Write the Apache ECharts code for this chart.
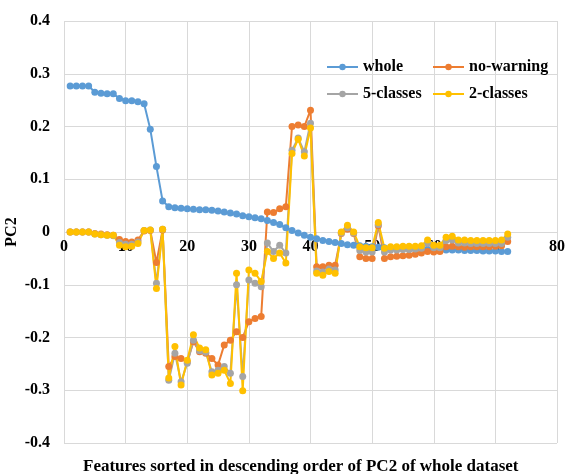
<!DOCTYPE html>
<html>
<head>
<meta charset="utf-8">
<script src="https://cdn.jsdelivr.net/npm/echarts@6/dist/echarts.min.js"></script>
<style>
  html, body { margin: 0; padding: 0; background: #fff; }
  #main { width: 569px; height: 474px; }
</style>
</head>
<body>
<div id="main"></div>
<script>
// PC2 loadings, features 1..72 sorted by PC2 of whole dataset
var whole = [
  0.277, 0.277, 0.277, 0.277, 0.265, 0.263, 0.262, 0.262, 0.253, 0.249,
  0.249, 0.247, 0.243, 0.195, 0.124, 0.059, 0.048, 0.046, 0.045, 0.044,
  0.043, 0.042, 0.042, 0.041, 0.040, 0.038, 0.036, 0.034, 0.031, 0.029,
  0.027, 0.025, 0.022, 0.018, 0.014, 0.008, 0.003, -0.002, -0.006, -0.010,
  -0.013, -0.016, -0.018, -0.020, -0.022, -0.024, -0.025, -0.026, -0.027, -0.028,
  -0.029, -0.030, -0.030, -0.031, -0.031, -0.032, -0.032, -0.032, -0.033, -0.033,
  -0.033, -0.034, -0.034, -0.034, -0.035, -0.035, -0.035, -0.036, -0.036, -0.036,
  -0.037, -0.037
];
var noWarning = [
  0, 0, 0, 0, -0.003, -0.004, -0.005, -0.006, -0.014, -0.018,
  -0.019, -0.015, 0.002, 0.003, -0.058, 0.004, -0.255, -0.236, -0.240, -0.246,
  -0.208, -0.227, -0.230, -0.240, -0.252, -0.214, -0.205, -0.189, -0.200, -0.170,
  -0.164, -0.160, 0.038, 0.037, 0.044, 0.048, 0.200, 0.203, 0.200, 0.231,
  -0.066, -0.066, -0.063, -0.063, -0.003, 0.005, -0.003, -0.047, -0.050, -0.050,
  0.012, -0.050, -0.047, -0.046, -0.045, -0.044, -0.042, -0.040, -0.037, -0.038,
  -0.037, -0.028, -0.027, -0.028, -0.029, -0.028, -0.028, -0.028, -0.028, -0.027,
  -0.026, -0.018
];
var fiveClasses = [
  0, 0, 0, 0, -0.004, -0.005, -0.006, -0.007, -0.020, -0.023,
  -0.023, -0.019, 0.003, 0.004, -0.097, 0.005, -0.281, -0.230, -0.284, -0.249,
  -0.205, -0.225, -0.228, -0.265, -0.262, -0.255, -0.268, -0.100, -0.274, -0.091,
  -0.097, -0.104, -0.021, -0.037, -0.025, -0.040, 0.155, 0.178, 0.152, 0.206,
  -0.074, -0.076, -0.070, -0.072, -0.002, 0.008, -0.002, -0.035, -0.038, -0.038,
  0.014, -0.038, -0.034, -0.034, -0.033, -0.033, -0.032, -0.031, -0.022, -0.030,
  -0.030, -0.016, -0.015, -0.021, -0.021, -0.022, -0.022, -0.022, -0.022, -0.022,
  -0.022, -0.010
];
var twoClasses = [
  0, 0, 0, 0, -0.004, -0.005, -0.006, -0.006, -0.025, -0.028,
  -0.027, -0.022, 0.003, 0.004, -0.107, 0.005, -0.277, -0.217, -0.290, -0.243,
  -0.195, -0.220, -0.223, -0.271, -0.268, -0.262, -0.287, -0.078, -0.301, -0.072,
  -0.078, -0.094, -0.037, -0.050, -0.040, -0.059, 0.149, 0.176, 0.144, 0.197,
  -0.078, -0.082, -0.075, -0.078, 0.000, 0.013, 0.000, -0.028, -0.030, -0.030,
  0.018, -0.031, -0.028, -0.028, -0.027, -0.027, -0.027, -0.026, -0.015, -0.025,
  -0.025, -0.010, -0.008, -0.015, -0.015, -0.016, -0.016, -0.016, -0.016, -0.016,
  -0.015, -0.004
];
var seriesNames = ['whole', 'no-warning', '5-classes', '2-classes'];
var seriesColors = ['#5B9BD5', '#ED7D31', '#A5A5A5', '#FFC000'];

function pairs(arr) {
  var out = [];
  for (var i = 0; i < arr.length; i++) {
    out.push([i + 1, arr[i]]);   // feature rank starts at 1
  }
  return out;
}

var chart = echarts.init(document.getElementById('main'));
var serif = 'Liberation Serif';
var allData = [whole, noWarning, fiveClasses, twoClasses];

var series = allData.map(function (d, k) {
  return {
    name: seriesNames[k],
    type: 'line',
    data: pairs(d),
    symbol: 'circle',
    symbolSize: 7,
    color: seriesColors[k],
    lineStyle: { width: 2 },
    animation: false
  };
});

// one legend per item so the two columns line up
function legendItem(name, left, top) {
  return {
    data: [name],
    left: left,
    top: top,
    padding: 0,
    itemWidth: 31,
    itemHeight: 8,
    textStyle: { fontFamily: serif, fontWeight: 'bold', fontSize: 16, color: '#000' }
  };
}

var option = {
  backgroundColor: '#fff',
  grid: { left: 64, right: 12, top: 21, bottom: 31, outerBoundsMode: 'none' },
  title: {
    text: 'Features sorted in descending order of PC2 of whole dataset',
    left: 83,
    top: 458,
    padding: 0,
    textStyle: { fontFamily: serif, fontWeight: 'bold', fontSize: 17, color: '#000' }
  },
  legend: [
    legendItem('whole', 326, 59),
    legendItem('no-warning', 432, 59),
    legendItem('5-classes', 326, 86),
    legendItem('2-classes', 432, 86)
  ],
  xAxis: {
    type: 'value',
    min: 0,
    max: 80,
    interval: 10,
    axisLine: { show: false },
    axisTick: { show: false },
    // labels sit just under the zero line, as in the original
    axisLabel: { fontFamily: serif, fontWeight: 'bold', fontSize: 16, color: '#000', margin: -204 },
    splitLine: { show: true, lineStyle: { color: '#d9d9d9' } }
  },
  yAxis: {
    type: 'value',
    min: -0.4,
    max: 0.4,
    interval: 0.1,
    name: 'PC2',
    nameLocation: 'middle',
    nameGap: 44,
    nameMoveOverlap: false,
    nameTextStyle: { fontFamily: serif, fontWeight: 'bold', fontSize: 16, color: '#000' },
    axisLine: { show: false },
    axisTick: { show: false },
    axisLabel: { fontFamily: serif, fontWeight: 'bold', fontSize: 16, color: '#000', margin: 14 },
    splitLine: { show: true, lineStyle: { color: '#d9d9d9' } }
  },
  series: series
};

chart.setOption(option);
</script>
</body>
</html>
